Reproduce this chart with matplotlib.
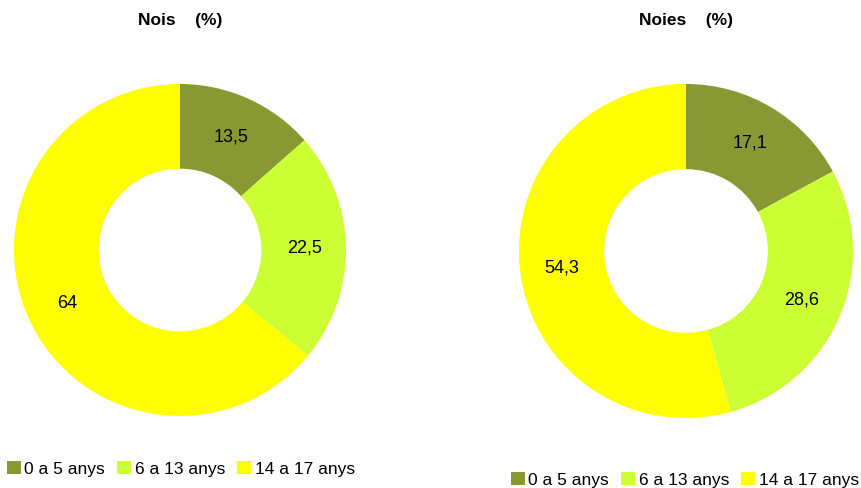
import matplotlib.pyplot as plt
from matplotlib.patches import Patch

plt.rcParams['font.family'] = ['Liberation Sans', 'DejaVu Sans']

categories = ["0 a 5 anys", "6 a 13 anys", "14 a 17 anys"]
nois = [13.5, 22.5, 64]
noies = [17.1, 28.6, 54.3]
nois_labels = ["13,5", "22,5", "64"]
noies_labels = ["17,1", "28,6", "54,3"]
colors = ["#889933", "#CCFF33", "#FFFF00"]

W, H = 862, 488
fig = plt.figure(figsize=(W / 100, H / 100), dpi=100)

def donut(cx, cy, r, values, labels, title, legend_y, legend_x):
    ax = fig.add_axes([(cx - r) / W, (H - cy - r) / H, 2 * r / W, 2 * r / H])
    wedges, texts = ax.pie(values, colors=colors, startangle=90, counterclock=False,
                           radius=1, wedgeprops=dict(width=0.51, linewidth=0),
                           labels=labels, labeldistance=0.75,
                           textprops=dict(fontsize=13, ha='center', va='center'))
    ax.set_xlim(-1, 1)
    ax.set_ylim(-1, 1)
    ax.set_aspect('equal')
    ax.axis('off')
    fig.text(cx / W, (H - 20) / H, title, ha='center', va='center',
             fontsize=12.5, fontweight='bold')
    handles = [Patch(facecolor=c, edgecolor='none') for c in colors]
    fig.legend(handles, categories, loc='center left',
               bbox_to_anchor=(legend_x / W, (H - legend_y) / H),
               ncol=3, frameon=False, fontsize=12.5, handlelength=0.8,
               handleheight=0.8, handletextpad=0.2, columnspacing=0.7,
               borderpad=0, borderaxespad=0)

donut(180, 250, 166, nois, nois_labels, "Nois    (%)", 469, 7)
donut(686, 251, 167, noies, noies_labels, "Noies    (%)", 480, 511)

fig.savefig("out.png", dpi=100)
